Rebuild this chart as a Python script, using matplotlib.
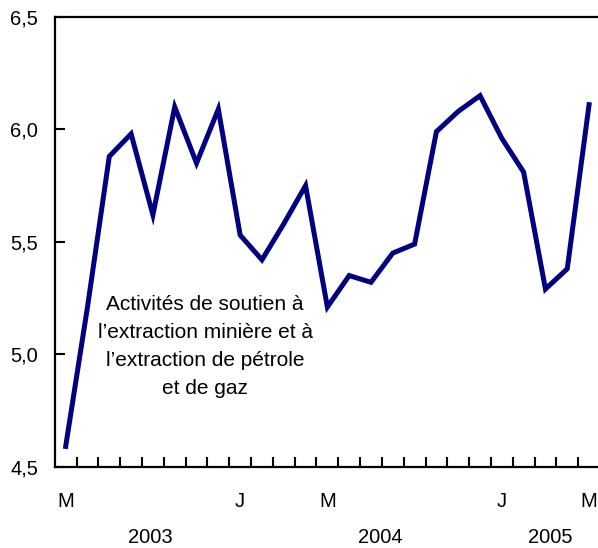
import matplotlib.pyplot as plt
import numpy as np

plt.rcParams['font.family'] = ['Liberation Sans', 'DejaVu Sans']

# monthly values, May 2003 to May 2005
values = [4.59, 5.21, 5.88, 5.98, 5.62, 6.10, 5.85, 6.09, 5.53, 5.42, 5.58, 5.75,
          5.21, 5.35, 5.32, 5.45, 5.49, 5.99, 6.08, 6.15, 5.96, 5.81, 5.29, 5.38, 6.11]
month_labels = ['M', 'J', 'M', 'J', 'M']
month_pos = [0, 8, 12, 20, 24]
years = ['2003', '2004', '2005']
year_pos = [3.9, 14.45, 22.2]
y_ticks = [4.5, 5.0, 5.5, 6.0, 6.5]
y_labels = ['4,5', '5,0', '5,5', '6,0', '6,5']
note = "Activités de soutien à\nl’extraction minière et à\nl’extraction de pétrole\net de gaz"

fig = plt.figure(figsize=(5.98, 5.48), dpi=100)
ax = fig.add_axes([0.0916, 0.1484, 0.9117, 0.8206])

x = np.arange(len(values))
ax.plot(x, values, color='#000080', linewidth=3.6, solid_joinstyle='miter', clip_on=False)

ax.set_xlim(-0.5, 24.5)
ax.set_ylim(4.5, 6.5)

# month boundaries as major ticks, month letters as minor ticks
ax.set_xticks(np.arange(0.5, 24, 1))
ax.set_xticklabels([])
ax.set_xticks(month_pos, minor=True)
ax.set_xticklabels(month_labels, minor=True)
ax.tick_params(axis='x', which='major', direction='in', length=7, width=1.5)
ax.tick_params(axis='x', which='minor', length=0, pad=18, labelsize=14.5)

ax.set_yticks(y_ticks)
ax.set_yticklabels(y_labels)
ax.tick_params(axis='y', direction='in', length=7, width=1.5, pad=12, labelsize=14.5)

for s in ax.spines.values():
    s.set_linewidth(1.6)

for yr, p in zip(years, year_pos):
    ax.text(p, -0.158, yr, transform=ax.get_xaxis_transform(),
            ha='center', va='center', fontsize=14.5)

ax.text(6.39, 5.035, note, ha='center', va='center', multialignment='center',
        fontsize=15, linespacing=1.6)

plt.savefig("out.png", dpi=100)
